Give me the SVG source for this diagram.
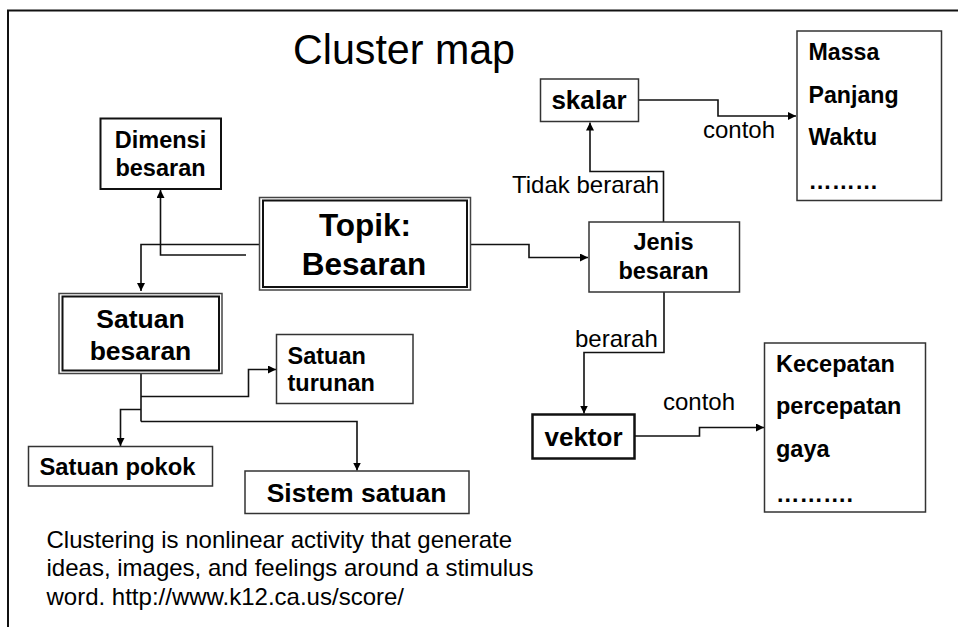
<svg xmlns="http://www.w3.org/2000/svg" width="958" height="627" viewBox="0 0 958 627">
  <defs>
    <marker id="arrow" viewBox="0 0 10 10" refX="10" refY="5" markerWidth="8" markerHeight="8" markerUnits="userSpaceOnUse" orient="auto">
      <path d="M0,0 L10,5 L0,10 Z" fill="#000"/>
    </marker>
    <style>
      .box { fill: #fff; stroke: #111; stroke-width: 2; }
      .thin { fill: #fff; stroke: #333; stroke-width: 1.5; }
      .bold { font-family: "Liberation Sans", Arial, sans-serif; font-weight: bold; fill: #000; }
      .reg { font-family: "Liberation Sans", Arial, sans-serif; fill: #000; }
      .link { fill: none; stroke: #111; stroke-width: 1.6; }
      .mid { text-anchor: middle; }
    </style>
  </defs>

  <rect width="958" height="627" fill="#fff"/>
  <!-- slide frame -->
  <path d="M8,627 L8,10.5 L958,10.5" fill="none" stroke="#111" stroke-width="2"/>

  <text class="reg" x="293" y="64" font-size="43" textLength="222" lengthAdjust="spacingAndGlyphs">Cluster map</text>

  <!-- connectors -->
  <g id="connectors">
    <path class="link" d="M259,244.5 H141 V291" marker-end="url(#arrow)"/>
    <path class="link" d="M246,255 H160.5 V190" marker-end="url(#arrow)"/>
    <path class="link" d="M470,244.5 H529 V257.5 H588" marker-end="url(#arrow)"/>
    <path class="link" d="M663.5,222 V171.5 H590 V122.5" marker-end="url(#arrow)"/>
    <path class="link" d="M639,100 H718 V116 H796" marker-end="url(#arrow)"/>
    <path class="link" d="M664,292 V352.5 H584 V413.5" marker-end="url(#arrow)"/>
    <path class="link" d="M635,436 H699.5 V427.5 H764" marker-end="url(#arrow)"/>
    <path class="link" d="M141,374 V421.5"/>
    <path class="link" d="M141,396.5 H248.5 V369.5 H276" marker-end="url(#arrow)"/>
    <path class="link" d="M141,409.5 H120.5 V446" marker-end="url(#arrow)"/>
    <path class="link" d="M141,421.5 H357 V470.5" marker-end="url(#arrow)"/>
    <text class="reg" x="512" y="193" font-size="24">Tidak berarah</text>
    <text class="reg" x="703" y="138" font-size="24">contoh</text>
    <text class="reg" x="575" y="347" font-size="24">berarah</text>
    <text class="reg" x="663" y="410" font-size="24">contoh</text>
  </g>

  <g id="topik">
    <rect x="259.5" y="197.5" width="211" height="92.5" fill="#fff" stroke="#444" stroke-width="1.5"/>
    <rect x="263" y="200.5" width="204" height="86.5" fill="none" stroke="#111" stroke-width="2"/>
    <text class="bold mid" x="365" y="236" font-size="31.5">Topik:</text>
    <text class="bold mid" x="364" y="275" font-size="31.5">Besaran</text>
  </g>

  <g id="dimensi">
    <rect class="box" x="100.5" y="118.5" width="120.5" height="70.5"/>
    <text class="bold mid" x="160.5" y="148" font-size="23.5">Dimensi</text>
    <text class="bold mid" x="160.5" y="176" font-size="23.5">besaran</text>
  </g>

  <g id="satuan-besaran">
    <rect x="59" y="293.5" width="163" height="80" fill="#fff" stroke="#444" stroke-width="1.5"/>
    <rect x="62.5" y="296.5" width="156.5" height="74" fill="none" stroke="#111" stroke-width="2"/>
    <text class="bold mid" x="140.5" y="327.5" font-size="26.5">Satuan</text>
    <text class="bold mid" x="140.5" y="360" font-size="26.5">besaran</text>
  </g>

  <g id="satuan-turunan">
    <rect class="thin" x="276.5" y="334.5" width="136.5" height="69"/>
    <text class="bold" x="287.5" y="363.5" font-size="23.5">Satuan</text>
    <text class="bold" x="287.5" y="391" font-size="23.5">turunan</text>
  </g>

  <g id="satuan-pokok">
    <rect class="thin" x="28.5" y="446.5" width="184" height="39.5"/>
    <text class="bold" x="39.5" y="475" font-size="23.8">Satuan pokok</text>
  </g>

  <g id="sistem-satuan">
    <rect class="thin" x="245" y="471" width="224" height="42.5"/>
    <text class="bold mid" x="356.5" y="501.5" font-size="26.5">Sistem satuan</text>
  </g>

  <g id="jenis">
    <rect class="thin" x="589" y="222" width="150.5" height="70"/>
    <text class="bold mid" x="663.5" y="250" font-size="23.5">Jenis</text>
    <text class="bold mid" x="663.5" y="279" font-size="23.5">besaran</text>
  </g>

  <g id="skalar">
    <rect class="thin" x="540.5" y="79" width="98" height="42.5"/>
    <text class="bold mid" x="589" y="109" font-size="26">skalar</text>
  </g>

  <g id="vektor">
    <rect x="532.5" y="414.5" width="102" height="44" fill="#fff" stroke="#111" stroke-width="2.5"/>
    <text class="bold mid" x="583.5" y="446" font-size="26">vektor</text>
  </g>

  <g id="contoh-skalar">
    <rect class="thin" x="797" y="31" width="144.5" height="169.5"/>
    <text class="bold" x="808.5" y="60" font-size="23.2">Massa</text>
    <text class="bold" x="808.5" y="102.5" font-size="23.2">Panjang</text>
    <text class="bold" x="808.5" y="145" font-size="23.2">Waktu</text>
    <text class="bold" x="808.5" y="189" font-size="23.2">………</text>
  </g>

  <g id="contoh-vektor">
    <rect class="thin" x="764.5" y="343" width="161" height="169"/>
    <text class="bold" x="776" y="371.5" font-size="23.5">Kecepatan</text>
    <text class="bold" x="776" y="414" font-size="23.5">percepatan</text>
    <text class="bold" x="776" y="456.5" font-size="23.5">gaya</text>
    <text class="bold" x="776" y="501.5" font-size="23.5">……….</text>
  </g>

  <g id="note" class="reg" font-size="24">
    <text x="46.5" y="547.5">Clustering is nonlinear activity that generate</text>
    <text x="46.5" y="576">ideas, images, and feelings around a stimulus</text>
    <text x="46.5" y="604.5">word. http://www.k12.ca.us/score/</text>
  </g>
</svg>
